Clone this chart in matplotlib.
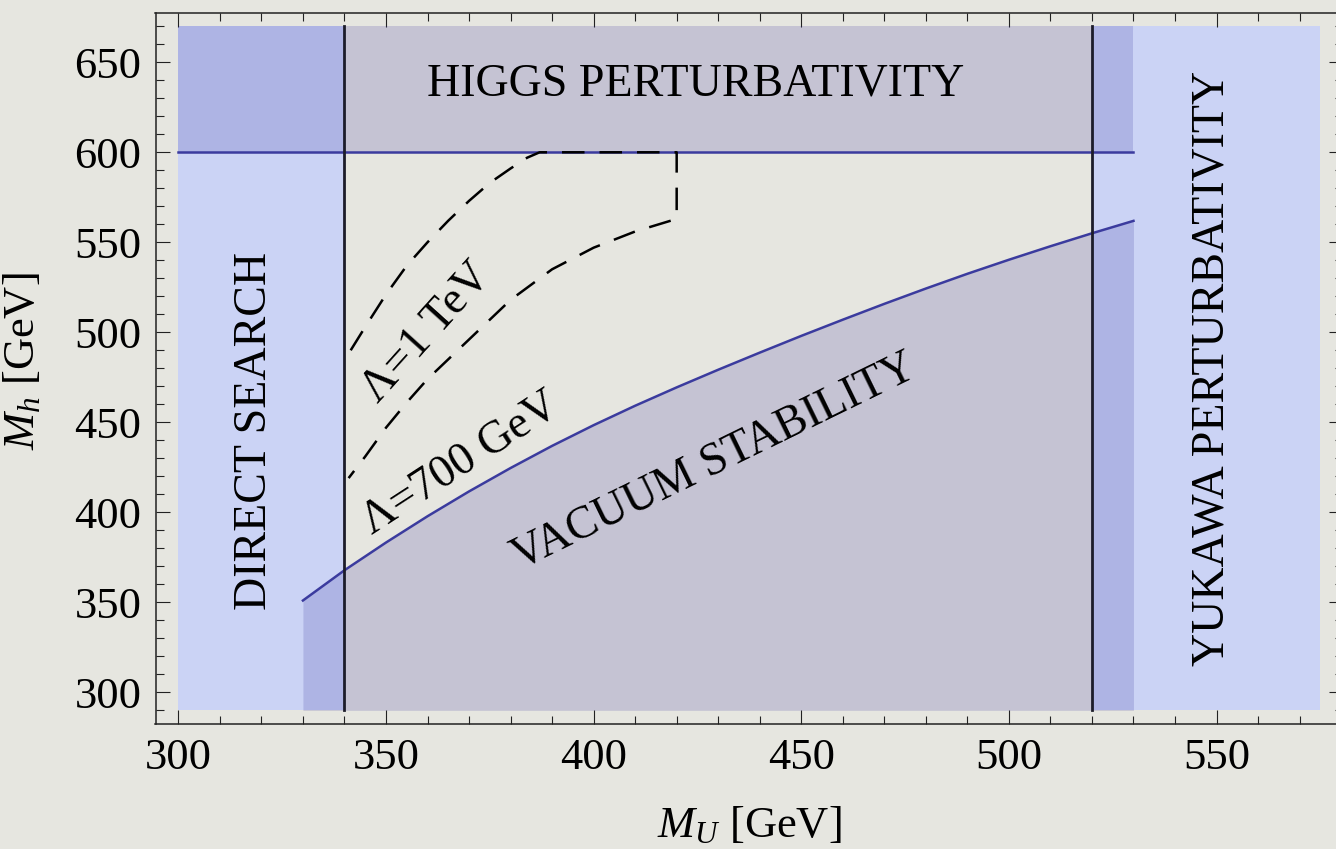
import numpy as np
import matplotlib.pyplot as plt
from matplotlib.ticker import MultipleLocator

plt.rcParams['font.family'] = ['Liberation Serif', 'DejaVu Serif']
plt.rcParams['mathtext.fontset'] = 'custom'
plt.rcParams['mathtext.rm'] = 'Liberation Serif'
plt.rcParams['mathtext.it'] = 'Liberation Serif:italic'

# plot range and excluded bands (GeV)
x_range = (300, 575)
y_range = (290, 670)
direct_search = (300, 340)
yukawa = (520, 575)
higgs_band = (300, 530)
higgs_max = 600
vlines_x = [340, 520]

# vacuum stability boundary
vac_x = [330, 340, 350, 360, 370, 380, 390, 400, 410, 420, 430,
         440, 450, 460, 470, 480, 490, 500, 510, 520, 530]
vac_y = [351, 367.8, 383.2, 397.8, 411.6, 424.6, 436.9, 448.4, 459.2, 469.4, 479.2,
         488.7, 498, 507, 515.8, 524.3, 532.5, 540.3, 547.8, 555, 561.9]

# cutoff contours (upper branch, top edge, lower branch)
lam_x = [341.5, 345, 350, 355, 360, 365, 370, 375, 380, 384, 387,
         420, 420,
         410, 400, 390, 380, 370, 360, 355, 350, 345, 341]
lam_y = [490, 503, 521, 537, 550, 562, 573, 583, 591, 597, 600,
         600, 563,
         556, 547, 535, 518, 496, 474, 461, 447, 431, 419]

bg = '#e6e6e0'
light_blue = '#cbd3f5'
shade = (47/255, 41/255, 152/255)
line_blue = '#3b3b9e'

fig = plt.figure(figsize=(13.36, 8.49), dpi=100, facecolor=bg)
ax = fig.add_axes([155.5/1336, 1 - 724/849, (1343.2 - 155.5)/1336, (724 - 12.6)/849])
ax.set_facecolor(bg)

# blue bands
ax.fill_between(direct_search, y_range[0], y_range[1], color=light_blue, lw=0, zorder=1)
ax.fill_between(yukawa, y_range[0], y_range[1], color=light_blue, lw=0, zorder=1)

# grey overlays: higgs perturbativity and vacuum stability
ax.fill_between(higgs_band, higgs_max, y_range[1], color=shade, alpha=0.18, lw=0, zorder=2)
ax.fill_between(vac_x, y_range[0], vac_y, color=shade, alpha=0.18, lw=0, zorder=2)

ax.plot(higgs_band, [higgs_max, higgs_max], color=line_blue, lw=1.8, zorder=4)
ax.plot(vac_x, vac_y, color=line_blue, lw=1.8, zorder=4)
for xv in vlines_x:
    ax.plot([xv, xv], y_range, color='#1c1c2a', lw=2.0, zorder=4)

ax.plot(lam_x, lam_y, color='black', lw=1.8, dashes=(9, 6), zorder=5)

fs = 33
ax.text(424.5, 638, 'HIGGS PERTURBATIVITY', fontsize=fs, ha='center', va='center', zorder=6)
ax.text(318.5, 445, 'DIRECT SEARCH', fontsize=fs, rotation=90, ha='center', va='center', zorder=6)
ax.text(549, 480, 'YUKAWA PERTURBATIVITY', fontsize=fs, rotation=90, ha='center', va='center', zorder=6)
ax.text(429, 428, 'VACUUM STABILITY', fontsize=fs, rotation=26, rotation_mode='anchor',
        ha='center', va='center', zorder=6)
ax.text(359.7, 500, 'Λ=1 TeV', fontsize=fs, rotation=48, rotation_mode='anchor',
        ha='center', va='center', zorder=6)
ax.text(368, 427, 'Λ=700 GeV', fontsize=fs, rotation=33, rotation_mode='anchor',
        ha='center', va='center', zorder=6)

ax.set_xlim(294.5, 580.5)
ax.set_ylim(282.4, 677.6)
ax.xaxis.set_major_locator(MultipleLocator(50))
ax.xaxis.set_minor_locator(MultipleLocator(10))
ax.yaxis.set_major_locator(MultipleLocator(50))
ax.yaxis.set_minor_locator(MultipleLocator(10))
ax.tick_params(which='both', direction='in', top=True, right=True, width=0.8, color='#222222')
ax.tick_params(which='major', length=10, labelsize=32, pad=10)
ax.tick_params(which='minor', length=6)
for s in ax.spines.values():
    s.set_linewidth(1.1)
    s.set_color('#222222')

ax.set_xlabel('$M_U$ [GeV]', fontsize=32)
ax.set_ylabel('$M_h$ [GeV]', fontsize=32)
ax.xaxis.set_label_coords(0.5, -0.142)
ax.xaxis.label.set_va('center')
ax.yaxis.set_label_coords(-0.112, 0.51)
ax.yaxis.label.set_va('center')

fig.savefig('out.png', dpi=100, facecolor=bg)
